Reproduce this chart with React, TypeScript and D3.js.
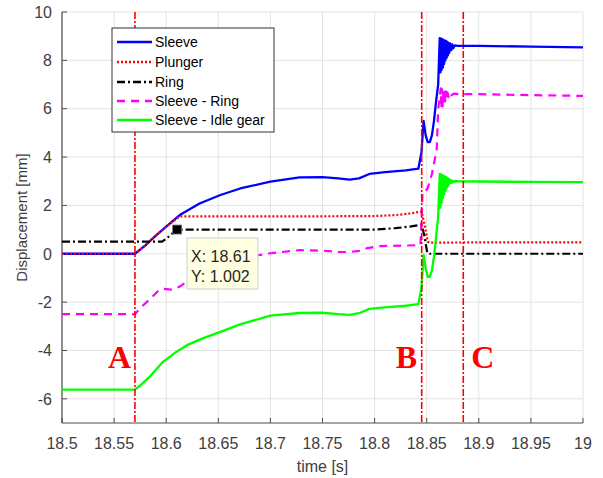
import React from "react";
import * as d3 from "d3";

const W = 603;
const H = 478;

const xTicks = [18.5, 18.55, 18.6, 18.65, 18.7, 18.75, 18.8, 18.85, 18.9, 18.95, 19];
const xTickLabels = ["18.5", "18.55", "18.6", "18.65", "18.7", "18.75", "18.8", "18.85", "18.9", "18.95", "19"];
const yTicks = [-6, -4, -2, 0, 2, 4, 6, 8, 10];

const seriesNames = ["Sleeve", "Plunger", "Ring", "Sleeve - Ring", "Sleeve - Idle gear"];

const sleeve: [number, number][] = [
  [18.5, 0], [18.57, 0], [18.58, 0.35], [18.59, 0.75], [18.6, 1.12], [18.613, 1.6],
  [18.632, 2.08], [18.652, 2.43], [18.671, 2.7], [18.7, 2.98], [18.728, 3.16], [18.75, 3.17],
  [18.765, 3.12], [18.776, 3.07], [18.785, 3.12], [18.795, 3.3], [18.81, 3.38], [18.83, 3.45],
  [18.842, 3.52], [18.845, 4.2], [18.847, 5.5], [18.849, 4.9], [18.851, 4.62], [18.853, 4.62],
  [18.855, 4.9], [18.857, 5.5], [18.859, 6.3], [18.861, 7.0], [18.8625, 8.92], [18.8631, 7.5],
  [18.8637, 8.9], [18.8643, 7.6], [18.8649, 8.88], [18.8655, 7.7], [18.8661, 8.85], [18.8667, 7.85],
  [18.8673, 8.82], [18.8679, 8.0], [18.8685, 8.8], [18.8691, 8.1], [18.8697, 8.76], [18.8703, 8.2],
  [18.8709, 8.72], [18.8715, 8.3], [18.8725, 8.7], [18.8735, 8.42], [18.8745, 8.66], [18.8755, 8.5],
  [18.877, 8.62], [18.88, 8.6], [18.9, 8.6], [18.95, 8.57], [19, 8.54],
];

const plunger: [number, number][] = [
  [18.5, 0], [18.57, 0], [18.58, 0.35], [18.59, 0.75], [18.6, 1.12], [18.613, 1.55],
  [18.65, 1.55], [18.7, 1.55], [18.75, 1.55], [18.8, 1.56], [18.82, 1.6], [18.835, 1.67],
  [18.845, 1.75], [18.848, 1.2], [18.851, 0.5], [18.853, 0.46], [18.9, 0.47], [19, 0.47],
];

const ring: [number, number][] = [
  [18.5, 0.5], [18.596, 0.5], [18.6, 0.62], [18.61, 1.0], [18.65, 1.0], [18.7, 1.0],
  [18.75, 1.0], [18.8, 1.0], [18.82, 1.06], [18.835, 1.13], [18.845, 1.2], [18.8475, 0.8],
  [18.8505, 0.05], [18.852, 0], [19, 0],
];

const sleeveRing: [number, number][] = [
  [18.5, -2.5], [18.57, -2.5], [18.575, -2.25], [18.585, -1.85], [18.592, -1.55], [18.597, -1.45],
  [18.605, -1.48], [18.613, -1.36], [18.625, -1.0], [18.64, -0.65], [18.66, -0.3], [18.68, -0.12],
  [18.69, -0.05], [18.7, 0.02], [18.728, 0.15], [18.75, 0.13], [18.765, 0.08], [18.776, 0.07],
  [18.785, 0.12], [18.792, 0.22], [18.805, 0.32], [18.83, 0.34], [18.844, 0.36], [18.846, 2.56],
  [18.849, 2.6], [18.851, 2.72], [18.855, 3.3], [18.8596, 4.3], [18.861, 5.95], [18.8635, 6.84],
  [18.8641, 6.0], [18.8647, 6.8], [18.8653, 6.1], [18.8659, 6.78], [18.8665, 6.2], [18.8671, 6.75],
  [18.8677, 6.3], [18.8683, 6.72], [18.8689, 6.4], [18.8699, 6.68], [18.8709, 6.48], [18.872, 6.65],
  [18.8735, 6.55], [18.876, 6.62], [18.88, 6.6], [18.9, 6.6], [18.95, 6.56], [19, 6.53],
];

const sleeveIdle: [number, number][] = [
  [18.5, -5.62], [18.57, -5.62], [18.575, -5.45], [18.585, -5.05], [18.597, -4.47], [18.61, -4.05],
  [18.62, -3.78], [18.635, -3.5], [18.652, -3.23], [18.671, -2.92], [18.7, -2.56], [18.728, -2.45],
  [18.75, -2.44], [18.765, -2.5], [18.776, -2.53], [18.785, -2.46], [18.795, -2.28], [18.81, -2.22],
  [18.83, -2.15], [18.842, -2.08], [18.845, -1.4], [18.847, -0.05], [18.849, -0.6], [18.851, -0.95],
  [18.853, -0.95], [18.855, -0.7], [18.857, -0.1], [18.859, 0.7], [18.861, 1.5], [18.8625, 3.3],
  [18.8631, 1.9], [18.8637, 3.28], [18.8643, 2.1], [18.8649, 3.25], [18.8655, 2.3], [18.8661, 3.22],
  [18.8667, 2.45], [18.8673, 3.2], [18.8679, 2.6], [18.8685, 3.17], [18.8691, 2.72], [18.8697, 3.14],
  [18.8703, 2.8], [18.8709, 3.1], [18.8715, 2.88], [18.8725, 3.06], [18.8735, 2.93], [18.8745, 3.03],
  [18.8755, 2.97], [18.877, 3.01], [18.88, 3.0], [18.9, 2.99], [18.95, 2.97], [19, 2.96],
];

const events: { label: string; t: number }[] = [
  { label: "A", t: 18.57 },
  { label: "B", t: 18.8452 },
  { label: "C", t: 18.8851 },
];

const tipX = 18.61;
const tipY = 1.002;

const m = { left: 62, right: 583, top: 12, bottom: 423 };

export default function App() {
  const x = d3.scaleLinear().domain([18.5, 19]).range([m.left, m.right]);
  const y = d3.scaleLinear().domain([-7, 10]).range([m.bottom, m.top]);
  const line = d3
    .line<[number, number]>()
    .x((d) => x(d[0]))
    .y((d) => y(d[1]));

  const styles = [
    { data: sleeve, color: "#0000ff", dash: "none", width: 2.3 },
    { data: plunger, color: "#ff0000", dash: "2,2", width: 2.2 },
    { data: ring, color: "#000000", dash: "8,3,2,3", width: 2.2 },
    { data: sleeveRing, color: "#ff00ff", dash: "8,6", width: 2.2 },
    { data: sleeveIdle, color: "#00ff00", dash: "none", width: 2.3 },
  ];
  const drawOrder = [0, 1, 2, 3, 4];

  const font = "Arial, 'Liberation Sans', Helvetica, sans-serif";
  const gridColor = "#e3e3e3";
  const axisColor = "#4d4d4d";
  const textColor = "#404040";

  const legendRows = [42, 62, 82, 101, 120];

  return (
    <svg
      width={W}
      height={H}
      style={{ position: "fixed", left: 0, top: 0, background: "#fff" }}
      fontFamily={font}
    >
      <defs>
        <clipPath id="plotClip">
          <rect x={m.left} y={m.top - 1} width={m.right - m.left} height={m.bottom - m.top + 1} />
        </clipPath>
      </defs>
      <rect x={0} y={0} width={W} height={H} fill="#fff" />
      {xTicks.map((t) => (
        <line key={"gx" + t} x1={x(t)} x2={x(t)} y1={m.top} y2={m.bottom} stroke={gridColor} strokeWidth={1} />
      ))}
      {yTicks.map((t) => (
        <line key={"gy" + t} x1={m.left} x2={m.right} y1={y(t)} y2={y(t)} stroke={gridColor} strokeWidth={1} />
      ))}
      <line x1={m.left} x2={m.left} y1={m.top} y2={m.bottom} stroke={axisColor} strokeWidth={1.2} />
      <line x1={m.left} x2={m.right} y1={m.bottom} y2={m.bottom} stroke={axisColor} strokeWidth={1.2} />
      {xTicks.map((t) => (
        <line key={"tx" + t} x1={x(t)} x2={x(t)} y1={m.bottom} y2={m.bottom - 5} stroke={axisColor} strokeWidth={1} />
      ))}
      {yTicks.map((t) => (
        <line key={"ty" + t} x1={m.left} x2={m.left + 5} y1={y(t)} y2={y(t)} stroke={axisColor} strokeWidth={1} />
      ))}
      {xTicks.map((t, i) => (
        <text key={"lx" + t} x={x(t)} y={449} textAnchor="middle" fontSize={16} fill={textColor}>
          {xTickLabels[i]}
        </text>
      ))}
      {yTicks.map((t) => (
        <text key={"ly" + t} x={52} y={y(t)} dy="0.36em" textAnchor="end" fontSize={16} fill={textColor}>
          {String(t)}
        </text>
      ))}
      <text x={(m.left + m.right) / 2} y={472} textAnchor="middle" fontSize={16} fill={textColor}>
        time [s]
      </text>
      <text
        transform={`translate(27,${(m.top + m.bottom) / 2}) rotate(-90)`}
        textAnchor="middle"
        fontSize={15}
        fill={textColor}
      >
        Displacement [mm]
      </text>
      <g clipPath="url(#plotClip)">
        {drawOrder.map((i) => (
          <path
            key={"s" + i}
            d={line(styles[i].data) || ""}
            fill="none"
            stroke={styles[i].color}
            strokeWidth={styles[i].width}
            strokeDasharray={styles[i].dash}
            strokeLinejoin="round"
          />
        ))}
        {events.map((e) => (
          <line
            key={"ev" + e.label}
            x1={x(e.t)}
            x2={x(e.t)}
            y1={m.top}
            y2={m.bottom}
            stroke="#ff0000"
            strokeWidth={1.6}
            strokeDasharray="7,2,2,2"
          />
        ))}
      </g>
      {events.map((e, i) => (
        <text
          key={"evl" + e.label}
          x={i === 0 ? x(e.t) - 27 : i === 1 ? x(e.t) - 26 : x(e.t) + 8}
          y={368}
          fontSize={32}
          fontWeight="bold"
          fontFamily="'Liberation Serif', 'Times New Roman', serif"
          fill="#ff0000"
        >
          {e.label}
        </text>
      ))}
      <rect x={x(tipX) - 4} y={y(tipY) - 4.5} width={9} height={9} fill="#000" stroke="#777" strokeWidth={0.8} />
      <rect x={187} y={238} width={71} height={51} fill="#ffffe1" stroke="#cfcfcf" strokeWidth={1} />
      <text x={191} y={261.5} fontSize={16} fill="#262626">
        {"X: " + tipX.toFixed(2)}
      </text>
      <text x={191} y={282} fontSize={16} fill="#262626">
        {"Y: " + tipY.toFixed(3)}
      </text>
      <rect x={112} y={28} width={162} height={104} fill="#fff" stroke="#333" strokeWidth={1} />
      {seriesNames.map((n, i) => (
        <g key={"lg" + i}>
          <line
            x1={117}
            x2={152}
            y1={legendRows[i]}
            y2={legendRows[i]}
            stroke={styles[i].color}
            strokeWidth={2.3}
            strokeDasharray={styles[i].dash}
          />
          <text x={155} y={legendRows[i]} dy="0.36em" fontSize={14} fill="#000">
            {n}
          </text>
        </g>
      ))}
    </svg>
  );
}
